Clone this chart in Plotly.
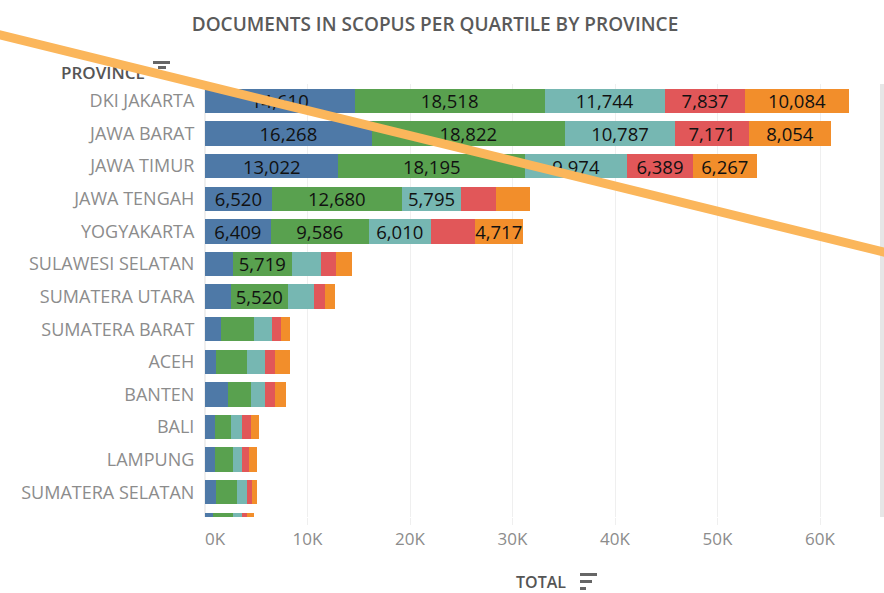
import plotly.graph_objects as go

W, H = 884, 593
LEFT, RIGHT, TOP, BOTTOM = 205, 880, 84, 517

provinces = ["DKI JAKARTA", "JAWA BARAT", "JAWA TIMUR", "JAWA TENGAH", "YOGYAKARTA",
             "SULAWESI SELATAN", "SUMATERA UTARA", "SUMATERA BARAT", "ACEH", "BANTEN",
             "BALI", "LAMPUNG", "SUMATERA SELATAN", " "]

q1 = [14610, 16268, 13022, 6520, 6409, 2730, 2535, 1590, 1105, 2210, 940, 940, 1105, 810]
q2 = [18518, 18822, 18195, 12680, 9586, 5719, 5520, 3150, 3020, 2240, 1590, 1755, 2050, 1885]
q3 = [11744, 10787, 9974, 5795, 6010, 2860, 2535, 1755, 1755, 1400, 1105, 940, 975, 940]
q4 = [7837, 7171, 6389, 3350, 4290, 1430, 1105, 940, 940, 975, 810, 650, 455, 490]
no_q = [10084, 8054, 6267, 3320, 4717, 1590, 975, 810, 1430, 1105, 780, 780, 490, 620]

series_names = ["Q1", "Q2", "Q3", "Q4", "NO Q"]
series_values = [q1, q2, q3, q4, no_q]
series_colors = ["#4E79A7", "#59A14F", "#76B7B2", "#E15759", "#F28E2B"]
# tableau only labels the segments wide enough to hold the number
label_min = 4700

x_ticks = [10000, 20000, 30000, 40000, 50000, 60000]
x_tick_labels = ["10K", "20K", "30K", "40K", "50K", "60K"]


def px(x):
    return (x - LEFT) / (RIGHT - LEFT)


def py(y):
    return (BOTTOM - y) / (BOTTOM - TOP)


def rect(x0, y0, x1, y1, color):
    return dict(type="rect", xref="paper", yref="paper", layer="above",
                x0=px(x0), x1=px(x1), y0=py(y0), y1=py(y1),
                fillcolor=color, line_width=0)


fig = go.Figure()
for name, values, color in zip(series_names, series_values, series_colors):
    fig.add_trace(go.Bar(y=provinces, x=values, name=name, orientation="h",
                         marker_color=color, marker_line_width=0,
                         text=[f"{v:,}" if v >= label_min else "" for v in values],
                         textposition="inside", insidetextanchor="middle",
                         textangle=0, constraintext="none",
                         textfont=dict(family="Open Sans", size=18.5, color="#111111")))

shapes = [
    rect(153, 61, 170, 64, "#666666"),
    rect(158, 66, 166, 69, "#666666"),
    rect(580, 573, 597, 576, "#666666"),
    rect(580, 580, 592, 583, "#666666"),
    rect(580, 587, 586, 590, "#666666"),
    rect(880, 84, 884, 517, "#E6E6E6"),
    # PROVINCE sits in the shape layer so the stroke goes over it
    dict(type="rect", xref="paper", yref="paper", layer="above",
         x0=px(50), x1=px(151), y0=py(83), y1=py(63), line_width=0,
         fillcolor="rgba(0,0,0,0)",
         label=dict(text="PROVINCE", textposition="middle right",
                    font=dict(family="Open Sans", size=17, weight=600, color="#555555"))),
    dict(type="line", xref="paper", yref="paper", layer="above",
         x0=px(-6), y0=py(33.5), x1=px(890), y1=py(253.5),
         line=dict(color="#FBB65B", width=9)),
]

annotations = [
    dict(text="0K", x=0, y=py(538), xref="x", yref="paper", xanchor="left", yanchor="middle",
         xshift=-2, showarrow=False, font=dict(family="Open Sans", size=17, color="#8C8C8C")),
    dict(text="TOTAL", x=px(541), y=py(582), xref="paper", yref="paper", xanchor="center",
         yanchor="middle", showarrow=False,
         font=dict(family="Open Sans", size=16, weight=600, color="#555555")),
]

fig.update_layout(
    title=dict(text="DOCUMENTS IN SCOPUS PER QUARTILE BY PROVINCE", x=435 / W, xanchor="center",
               y=1 - 24 / H, yanchor="middle",
               font=dict(family="Open Sans", size=19, weight=600, color="#5A5A5A")),
    barmode="stack", bargap=0.25, showlegend=False,
    width=W, height=H, margin=dict(l=LEFT, r=W - RIGHT, t=TOP, b=H - BOTTOM, pad=0),
    paper_bgcolor="white", plot_bgcolor="white",
    shapes=shapes, annotations=annotations,
    xaxis=dict(range=[0, 65850], tickvals=x_ticks, ticktext=x_tick_labels, side="bottom",
               showgrid=True, gridcolor="#EFEFEF", gridwidth=1, zeroline=True,
               zerolinecolor="#EFEFEF", showline=False, ticks="outside", ticklen=7,
               tickcolor="#EFEFEF", tickfont=dict(family="Open Sans", size=17, color="#8C8C8C")),
    yaxis=dict(type="category", categoryorder="array", categoryarray=provinces,
               range=[12.76, -0.52], showgrid=False, zeroline=False, showline=False,
               ticks="outside", ticklen=6, tickcolor="rgba(0,0,0,0)",
               tickfont=dict(family="Open Sans", size=18, color="#8C8C8C")),
)

# drop the browser's default body margin so the figure fills the window
fig.write_html("out.html", config={"displayModeBar": False},
               post_script="document.body.style.margin = '0';")
